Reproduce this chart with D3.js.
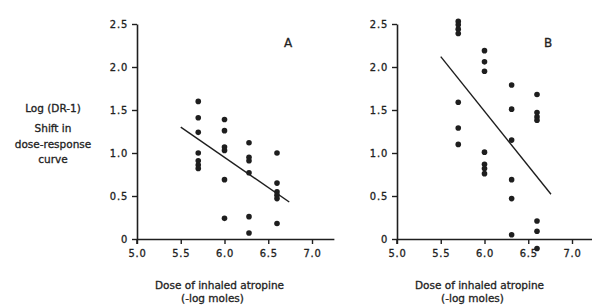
<!DOCTYPE html>
<html>
<head>
<meta charset="utf-8">
<script src="https://cdn.jsdelivr.net/npm/d3@7"></script>
<style>
  body { margin: 0; background: #fff; }
  svg text { font-family: "DejaVu Sans", sans-serif; fill: #222; stroke: #222; stroke-width: 0.3; }
</style>
</head>
<body>
<svg id="chart" width="592" height="306"></svg>
<script>
// values
const xTicks = [5.0, 5.5, 6.0, 6.5, 7.0];
const yTicks = [0, 0.5, 1.0, 1.5, 2.0, 2.5];

// panel A
const doseA = [5.7, 5.7, 5.7, 5.7, 5.7, 5.7, 5.7,
  6.0, 6.0, 6.0, 6.0, 6.0, 6.0,
  6.28, 6.28, 6.28, 6.28, 6.28, 6.28,
  6.6, 6.6, 6.6, 6.6, 6.6, 6.6];
const shiftA = [1.60, 1.41, 1.24, 1.00, 0.91, 0.86, 0.82,
  1.39, 1.26, 1.07, 1.03, 0.69, 0.24,
  1.12, 0.95, 0.91, 0.77, 0.26, 0.07,
  1.00, 0.65, 0.55, 0.51, 0.47, 0.18];
const fitA = [[5.5, 1.30], [6.74, 0.43]];

// panel B
const doseB = [5.7, 5.7, 5.7, 5.7, 5.7, 5.7, 5.7,
  6.0, 6.0, 6.0, 6.0, 6.0, 6.0, 6.0,
  6.31, 6.31, 6.31, 6.31, 6.31, 6.31,
  6.6, 6.6, 6.6, 6.6, 6.6, 6.6, 6.6];
const shiftB = [2.53, 2.49, 2.44, 2.39, 1.59, 1.29, 1.10,
  2.19, 2.06, 1.95, 1.01, 0.87, 0.82, 0.76,
  1.79, 1.51, 1.15, 0.69, 0.47, 0.05,
  1.68, 1.47, 1.42, 1.38, 0.21, 0.09, -0.11];
const fitB = [[5.5, 2.12], [6.76, 0.52]];

const svg = d3.select('#chart');
const ink = '#1e1e1e';

const y = d3.scaleLinear().domain([0, 2.5]).range([239, 24]);

function drawPanel(left, dose, shift, fit, letter, letterX) {
  const x = d3.scaleLinear().domain([5, 7.25]).range([left, left + 2.25 * 87.5]);
  const g = svg.append('g');

  const xAxis = d3.axisBottom(x)
    .tickValues(xTicks)
    .tickFormat(d => d.toFixed(1))
    .tickSize(5)
    .tickSizeOuter(0)
    .tickPadding(5);
  const gx = g.append('g')
    .attr('transform', `translate(0,${y(0)})`)
    .call(xAxis);

  const yAxis = d3.axisLeft(y)
    .tickValues(yTicks)
    .tickFormat(d => d === 0 ? '0' : d.toFixed(1))
    .tickSize(5)
    .tickSizeOuter(0)
    .tickPadding(4);
  const gy = g.append('g')
    .attr('transform', `translate(${left},0)`)
    .call(yAxis);

  [gx, gy].forEach(a => {
    a.selectAll('path.domain').attr('stroke', ink).attr('stroke-width', 1.6);
    a.selectAll('.tick line').attr('stroke', ink).attr('stroke-width', 1.4);
    a.selectAll('.tick text')
      .attr('font-size', 11)
      .attr('letter-spacing', 0.8)
      .style('font-family', '"DejaVu Sans Condensed", "DejaVu Sans", sans-serif')
      .attr('fill', '#222');
  });

  // small stub of the y axis below the origin
  g.append('line')
    .attr('x1', left).attr('x2', left)
    .attr('y1', y(0)).attr('y2', y(0) + 5)
    .attr('stroke', ink).attr('stroke-width', 1.6);

  // fitted line
  g.append('line')
    .attr('x1', x(fit[0][0])).attr('y1', y(fit[0][1]))
    .attr('x2', x(fit[1][0])).attr('y2', y(fit[1][1]))
    .attr('stroke', ink).attr('stroke-width', 1.4);

  g.selectAll('circle.pt')
    .data(dose.map((d, i) => [d, shift[i]]))
    .enter()
    .append('circle')
    .classed('pt', true)
    .attr('cx', d => x(d[0]))
    .attr('cy', d => y(d[1]))
    .attr('r', 2.8)
    .attr('fill', ink);

  g.append('text')
    .attr('x', letterX)
    .attr('y', 47)
    .attr('text-anchor', 'middle')
    .attr('font-size', 12)
    .text(letter);

  const cx = x(6.0) - 5;
  g.append('text')
    .attr('x', cx)
    .attr('y', 289)
    .attr('text-anchor', 'middle')
    .attr('font-size', 10.5)
    .text('Dose of inhaled atropine');
  g.append('text')
    .attr('x', cx - 7)
    .attr('y', 302)
    .attr('text-anchor', 'middle')
    .attr('font-size', 10.5)
    .text('(-log moles)');
}

drawPanel(137, doseA, shiftA, fitA, 'A', 288);
drawPanel(397, doseB, shiftB, fitB, 'B', 548);

// y axis title, left of panel A
const yTitle = ['Log (DR-1)', 'Shift in', 'dose-response', 'curve'];
const yTitleBase = [112, 132, 148, 163];
svg.selectAll('text.ytitle')
  .data(yTitle)
  .enter()
  .append('text')
  .classed('ytitle', true)
  .attr('x', 53)
  .attr('y', (d, i) => yTitleBase[i])
  .attr('text-anchor', 'middle')
  .attr('font-size', 10.5)
  .text(d => d);
</script>
</body>
</html>
